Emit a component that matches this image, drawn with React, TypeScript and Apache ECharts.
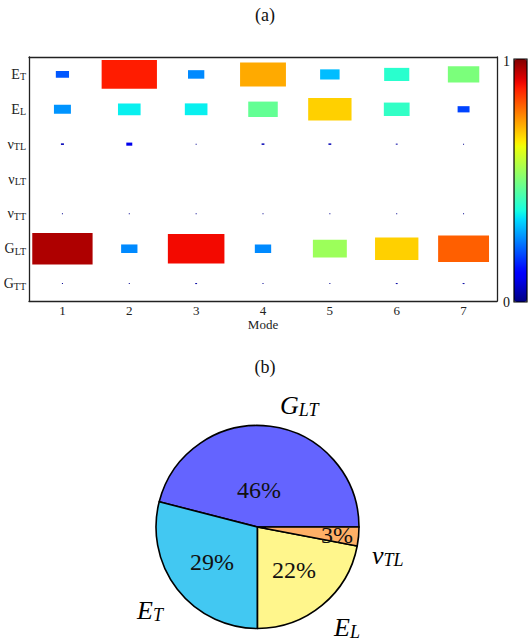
import React, { useEffect, useRef } from 'react';
import * as echarts from 'echarts';

// ---------- data ----------
const modes = ['1', '2', '3', '4', '5', '6', '7'];
const paramMain = ['E', 'E', 'ν', 'ν', 'ν', 'G', 'G'];
const paramSub = ['T', 'L', 'TL', 'LT', 'TT', 'LT', 'TT'];
// normalised sensitivity per parameter row, modes 1..7
const valET = [0.21, 0.88, 0.26, 0.73, 0.31, 0.40, 0.50];
const valEL = [0.27, 0.36, 0.36, 0.47, 0.69, 0.41, 0.19];
const valNuTL = [0.048, 0.095, 0.015, 0.045, 0.045, 0.03, 0.015];
const valNuLT = [0, 0, 0, 0, 0, 0, 0];
const valNuTT = [0.012, 0.012, 0.012, 0.012, 0.012, 0.012, 0.012];
const valGLT = [0.96, 0.26, 0.9, 0.26, 0.54, 0.69, 0.81];
const valGTT = [0.015, 0.015, 0.03, 0.015, 0.015, 0.03, 0.03];
const rows = [valET, valEL, valNuTL, valNuLT, valNuTT, valGLT, valGTT];

const pieMain = ['G', 'E', 'E', 'ν'];
const pieSub = ['LT', 'T', 'L', 'TL'];
const pieShares = [46, 29, 22, 3];
const pieColors = ['#6464FF', '#42C8F2', '#FFF68C', '#FFB066'];

// ---------- helpers ----------
const jetR = [[0, 0], [0.35, 0], [0.66, 1], [0.89, 1], [1, 0.5]];
const jetG = [[0, 0], [0.125, 0], [0.375, 1], [0.64, 1], [0.91, 0], [1, 0]];
const jetB = [[0, 0.5], [0.11, 1], [0.34, 1], [0.65, 0], [1, 0]];
function seg(pts: number[][], x: number) {
  for (let i = 1; i < pts.length; i++) {
    if (x <= pts[i][0]) {
      const [x0, y0] = pts[i - 1];
      const [x1, y1] = pts[i];
      return y0 + ((x - x0) / (x1 - x0)) * (y1 - y0);
    }
  }
  return pts[pts.length - 1][1];
}
function jet(v: number) {
  const c = (a: number) => Math.round(a * 255);
  return `rgb(${c(seg(jetR, v))},${c(seg(jetG, v))},${c(seg(jetB, v))})`;
}
const jetStops: string[] = [];
for (let i = 0; i <= 50; i++) jetStops.push(jet(i / 50));

const SERIF = 'Liberation Serif';

export default function App() {
  const ref = useRef<HTMLDivElement>(null);
  useEffect(() => {
    document.body.style.margin = '0';
    const chart = echarts.init(ref.current!, undefined, { renderer: 'svg' });
    const data: number[][] = [];
    rows.forEach((r, yi) => r.forEach((v, xi) => data.push([xi, yi, v])));
    const K = 0.94;

    const ylab = (_: string, i: number) => `{m|${paramMain[i]}}{s|${paramSub[i]}}`;
    const axisColor = '#222';

    // pie label positions (layout)
    const pctPos = [[259, 490], [212, 562], [294, 570], [337, 535]];
    const namePos = [[280, 405, 'left'], [163, 610, 'right'], [334, 627, 'left'], [372, 555, 'left']];

    const txt = (x: number, y: number, text: string, size: number, align = 'center') => ({
      type: 'text', x, y, z: 100,
      style: { text, fontFamily: SERIF, fontSize: size, fill: '#111', align, verticalAlign: 'middle' },
    });

    const graphics: any[] = [
      txt(265, 15, '(a)', 18),
      txt(265, 367, '(b)', 18),
      { type: 'rect', shape: { x: 514, y: 59, width: 13, height: 243 }, style: { fill: 'none', stroke: '#000', lineWidth: 1.2 }, z: 100 },
      txt(510, 61, '1', 14, 'right'),
      txt(510, 302, '0', 14, 'right'),
    ];
    pieShares.forEach((s, i) => {
      graphics.push(txt(pctPos[i][0], pctPos[i][1], `${s}%`, 24));
      graphics.push({
        type: 'text', x: namePos[i][0], y: namePos[i][1], z: 100,
        style: {
          text: `{m|${pieMain[i]}}{s|${pieSub[i]}}`,
          align: namePos[i][2], verticalAlign: 'middle',
          rich: {
            m: { fontFamily: SERIF, fontStyle: 'italic', fontSize: 26, fill: '#000', lineHeight: 26 },
            s: { fontFamily: SERIF, fontStyle: 'italic', fontSize: 18, fill: '#000', padding: [10, 0, 0, 0], lineHeight: 18 },
          },
        },
      });
    });

    chart.setOption({
      animation: false,
      grid: { left: 29, top: 57, width: 468, height: 244, containLabel: false },
      xAxis: [
        {
          type: 'category', data: modes, position: 'bottom', boundaryGap: true,
          name: 'Mode', nameLocation: 'middle', nameGap: 17,
          nameTextStyle: { fontFamily: SERIF, fontSize: 13, color: '#222' },
          axisLine: { lineStyle: { color: axisColor, width: 1.3 } },
          axisTick: { inside: true, alignWithLabel: true, length: 4, lineStyle: { color: axisColor } },
          axisLabel: { fontFamily: SERIF, fontSize: 13, color: '#222', margin: 3 },
          splitLine: { show: false },
        },
        {
          type: 'category', data: modes, position: 'top', boundaryGap: true,
          axisLine: { lineStyle: { color: axisColor, width: 1.3 } },
          axisTick: { inside: true, alignWithLabel: true, length: 4, lineStyle: { color: axisColor } },
          axisLabel: { show: false },
        },
      ],
      yAxis: [
        {
          type: 'category', data: paramSub, inverse: true, position: 'left', boundaryGap: true,
          axisLine: { lineStyle: { color: axisColor, width: 1.3 } },
          axisTick: { inside: true, alignWithLabel: true, length: 4, lineStyle: { color: axisColor } },
          axisLabel: {
            formatter: ylab, margin: 3,
            rich: {
              m: { fontFamily: SERIF, fontSize: 14, color: '#222', lineHeight: 14 },
              s: { fontFamily: SERIF, fontSize: 10, color: '#222', lineHeight: 10, padding: [5, 0, 0, 0] },
            },
          },
        },
        {
          type: 'category', data: paramSub, inverse: true, position: 'right', boundaryGap: true,
          axisLine: { lineStyle: { color: axisColor, width: 1.3 } },
          axisTick: { inside: true, alignWithLabel: true, length: 4, lineStyle: { color: axisColor } },
          axisLabel: { show: false },
        },
      ],
      visualMap: {
        type: 'continuous', min: 0, max: 1, dimension: 2, seriesIndex: 0,
        calculable: false, orient: 'vertical', left: 514, top: 59, padding: 0,
        itemWidth: 13, itemHeight: 243, text: null, showLabel: false,
        inRange: { color: jetStops },
        hoverLink: false,
      },
      graphic: graphics,
      series: [
        {
          type: 'custom', xAxisIndex: 0, yAxisIndex: 0, data,
          renderItem: (params: any, api: any) => {
            const v = api.value(2);
            if (!(v > 0)) return null;
            const c = api.coord([api.value(0), api.value(1)]);
            const s = api.size([1, 1]);
            const w = Math.max(1, v * K * s[0]);
            const h = Math.max(1, v * K * s[1]);
            return {
              type: 'rect',
              shape: { x: c[0] - w / 2, y: c[1] - h / 2, width: w, height: h },
              style: { fill: api.visual('color') },
            };
          },
        },
        {
          type: 'pie', center: [257.5, 527], radius: 101.5, startAngle: 0, clockwise: false,
          label: { show: false }, labelLine: { show: false }, silent: true,
          itemStyle: { borderColor: '#000', borderWidth: 1.6 },
          emphasis: { disabled: true },
          data: pieShares.map((v, i) => ({ value: v, name: pieMain[i] + pieSub[i], itemStyle: { color: pieColors[i] } })),
        },
      ],
    });
    return () => chart.dispose();
  }, []);
  return <div ref={ref} style={{ position: 'absolute', left: 0, top: 0, width: 529, height: 643 }} />;
}
